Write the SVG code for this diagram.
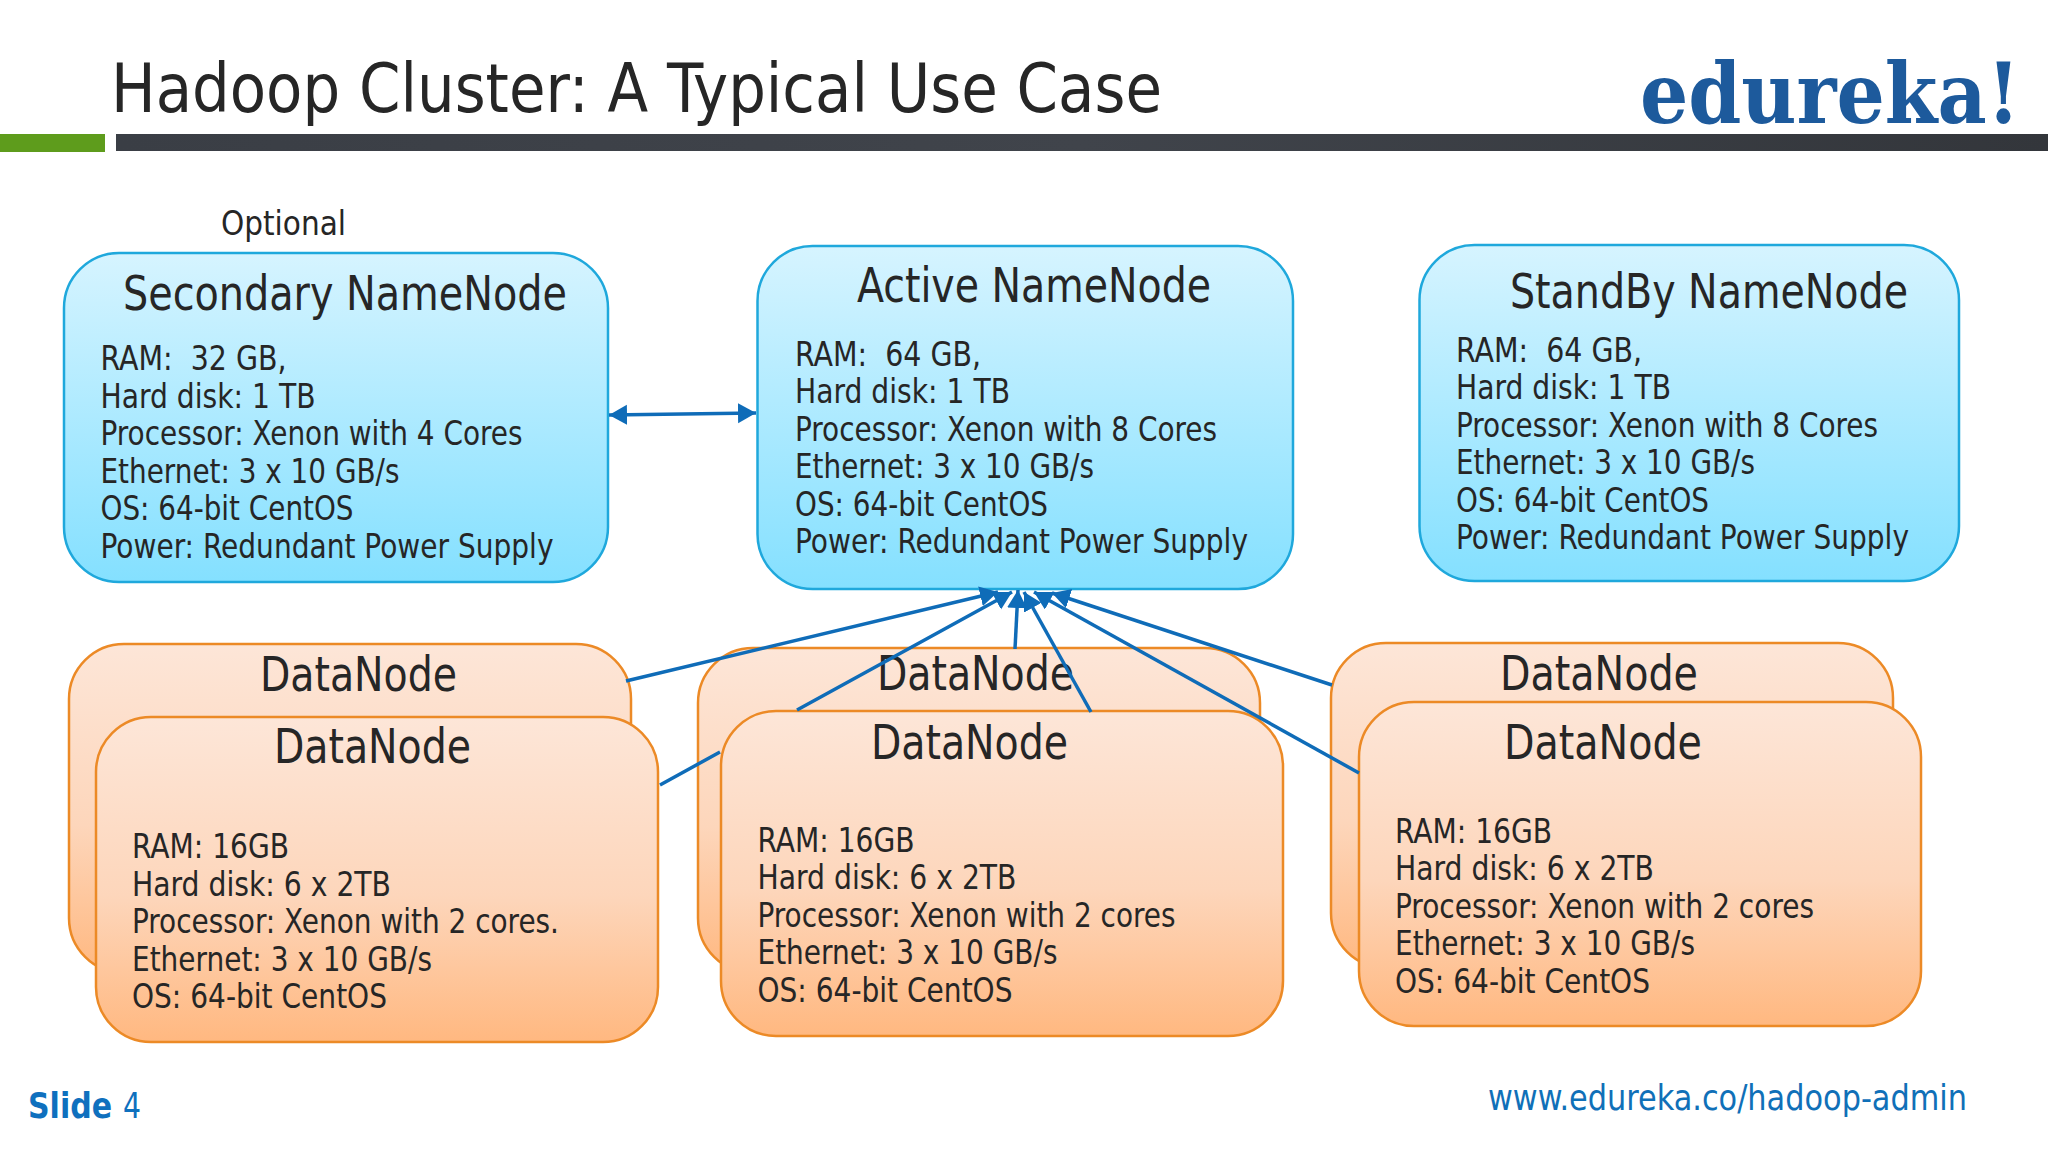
<svg xmlns="http://www.w3.org/2000/svg" width="2048" height="1152" viewBox="0 0 2048 1152">
<style>
text{font-family:"DejaVu Sans","Noto Sans",sans-serif;font-stretch:condensed;fill:#262626}
.b{font-size:33px}
.h{font-size:48px}
.blue{fill:url(#gb);stroke:#1fa8dc;stroke-width:2.5}
.or{fill:url(#go);stroke:#ec8a26;stroke-width:2.5}
.c{fill:none;stroke:#0f6cb8;stroke-width:3.500}
</style>
<defs>
<linearGradient id="gb" x1="0" y1="0" x2="0" y2="1"><stop offset="0" stop-color="#d6f4ff"/><stop offset="1" stop-color="#84e0ff"/></linearGradient>
<linearGradient id="go" x1="0" y1="0" x2="0" y2="1"><stop offset="0" stop-color="#fde6d8"/><stop offset="0.55" stop-color="#fdd6bb"/><stop offset="1" stop-color="#ffb880"/></linearGradient>
<linearGradient id="bar" x1="0" y1="0" x2="1" y2="0"><stop offset="0" stop-color="#3a3e45"/><stop offset="0.5" stop-color="#40444b"/><stop offset="1" stop-color="#33363b"/></linearGradient>
<marker id="a" markerUnits="userSpaceOnUse" markerWidth="20" markerHeight="22" refX="18" refY="10" orient="auto-start-reverse"><path d="M0 0L18 10L0 20Z" fill="#0f6cb8"/></marker>
</defs>
<rect width="2048" height="1152" fill="#fff"/>
<g id="header">
<rect x="0" y="134" width="105" height="18" fill="#5e9c1c"/>
<rect x="116" y="134" width="1932" height="17" fill="url(#bar)"/>
<text x="111" y="112" font-size="68" textLength="1051" lengthAdjust="spacingAndGlyphs">Hadoop Cluster: A Typical Use Case</text>
<text x="1640" y="123" font-size="84" textLength="380" lengthAdjust="spacingAndGlyphs" style="font-family:'DejaVu Serif','Liberation Serif',serif;font-weight:bold;fill:#1d5a9c">edureka!</text>
</g>
<text id="optional" class="b" x="221" y="235" textLength="125" lengthAdjust="spacingAndGlyphs">Optional</text>
<g id="secondary-namenode">
<rect class="blue" x="64" y="253" width="544" height="329" rx="55"/>
<text class="h" x="123" y="310" textLength="444" lengthAdjust="spacingAndGlyphs">Secondary NameNode</text>
<text class="b" x="100.500" y="370" textLength="186" lengthAdjust="spacingAndGlyphs" xml:space="preserve">RAM:  32 GB,</text>
<text class="b" x="100.500" y="407.500" textLength="215" lengthAdjust="spacingAndGlyphs">Hard disk: 1 TB</text>
<text class="b" x="100.500" y="445" textLength="422" lengthAdjust="spacingAndGlyphs">Processor: Xenon with 4 Cores</text>
<text class="b" x="100.500" y="482.500" textLength="299" lengthAdjust="spacingAndGlyphs">Ethernet: 3 x 10 GB/s</text>
<text class="b" x="100.500" y="520" textLength="253" lengthAdjust="spacingAndGlyphs">OS: 64-bit CentOS</text>
<text class="b" x="100.500" y="557.500" textLength="453" lengthAdjust="spacingAndGlyphs">Power: Redundant Power Supply</text>
</g>
<g id="active-namenode">
<rect class="blue" x="757.500" y="246" width="535.500" height="343" rx="55"/>
<text class="h" x="857" y="302" textLength="354" lengthAdjust="spacingAndGlyphs">Active NameNode</text>
<text class="b" x="795" y="365.500" textLength="186" lengthAdjust="spacingAndGlyphs" xml:space="preserve">RAM:  64 GB,</text>
<text class="b" x="795" y="403" textLength="215" lengthAdjust="spacingAndGlyphs">Hard disk: 1 TB</text>
<text class="b" x="795" y="440.500" textLength="422" lengthAdjust="spacingAndGlyphs">Processor: Xenon with 8 Cores</text>
<text class="b" x="795" y="478" textLength="299" lengthAdjust="spacingAndGlyphs">Ethernet: 3 x 10 GB/s</text>
<text class="b" x="795" y="515.500" textLength="253" lengthAdjust="spacingAndGlyphs">OS: 64-bit CentOS</text>
<text class="b" x="795" y="553" textLength="453" lengthAdjust="spacingAndGlyphs">Power: Redundant Power Supply</text>
</g>
<g id="standby-namenode">
<rect class="blue" x="1419.500" y="245" width="539.500" height="336" rx="55"/>
<text class="h" x="1510" y="308" textLength="398" lengthAdjust="spacingAndGlyphs">StandBy NameNode</text>
<text class="b" x="1456" y="361.500" textLength="186" lengthAdjust="spacingAndGlyphs" xml:space="preserve">RAM:  64 GB,</text>
<text class="b" x="1456" y="399" textLength="215" lengthAdjust="spacingAndGlyphs">Hard disk: 1 TB</text>
<text class="b" x="1456" y="436.500" textLength="422" lengthAdjust="spacingAndGlyphs">Processor: Xenon with 8 Cores</text>
<text class="b" x="1456" y="474" textLength="299" lengthAdjust="spacingAndGlyphs">Ethernet: 3 x 10 GB/s</text>
<text class="b" x="1456" y="511.500" textLength="253" lengthAdjust="spacingAndGlyphs">OS: 64-bit CentOS</text>
<text class="b" x="1456" y="549" textLength="453" lengthAdjust="spacingAndGlyphs">Power: Redundant Power Supply</text>
</g>
<g id="datanode-back-1">
<rect class="or" x="69" y="644" width="562" height="329" rx="55"/>
<text class="h" x="260" y="691" textLength="197" lengthAdjust="spacingAndGlyphs">DataNode</text>
</g>
<g id="datanode-back-2">
<rect class="or" x="698" y="648" width="562" height="325" rx="55"/>
<text class="h" x="877" y="690" textLength="197" lengthAdjust="spacingAndGlyphs">DataNode</text>
</g>
<g id="datanode-back-3">
<rect class="or" x="1331" y="643" width="562" height="325" rx="55"/>
<text class="h" x="1500" y="690" textLength="198" lengthAdjust="spacingAndGlyphs">DataNode</text>
</g>
<g id="datanode-front-1">
<rect class="or" x="96" y="717" width="562" height="325" rx="55"/>
<text class="h" x="274" y="763" textLength="197" lengthAdjust="spacingAndGlyphs">DataNode</text>
<text class="b" x="132" y="858" textLength="157" lengthAdjust="spacingAndGlyphs">RAM: 16GB</text>
<text class="b" x="132" y="895.500" textLength="259" lengthAdjust="spacingAndGlyphs">Hard disk: 6 x 2TB</text>
<text class="b" x="132" y="933" textLength="427" lengthAdjust="spacingAndGlyphs">Processor: Xenon with 2 cores.</text>
<text class="b" x="132" y="970.500" textLength="300" lengthAdjust="spacingAndGlyphs">Ethernet: 3 x 10 GB/s</text>
<text class="b" x="132" y="1008" textLength="255" lengthAdjust="spacingAndGlyphs">OS: 64-bit CentOS</text>
</g>
<g id="datanode-front-2">
<rect class="or" x="721" y="711" width="562" height="325" rx="55"/>
<text class="h" x="871" y="758.500" textLength="197" lengthAdjust="spacingAndGlyphs">DataNode</text>
<text class="b" x="757.500" y="851.500" textLength="157" lengthAdjust="spacingAndGlyphs">RAM: 16GB</text>
<text class="b" x="757.500" y="889" textLength="259" lengthAdjust="spacingAndGlyphs">Hard disk: 6 x 2TB</text>
<text class="b" x="757.500" y="926.500" textLength="418" lengthAdjust="spacingAndGlyphs">Processor: Xenon with 2 cores</text>
<text class="b" x="757.500" y="964" textLength="300" lengthAdjust="spacingAndGlyphs">Ethernet: 3 x 10 GB/s</text>
<text class="b" x="757.500" y="1001.500" textLength="255" lengthAdjust="spacingAndGlyphs">OS: 64-bit CentOS</text>
</g>
<g id="datanode-front-3">
<rect class="or" x="1359" y="702" width="562" height="324" rx="55"/>
<text class="h" x="1504" y="758.500" textLength="198" lengthAdjust="spacingAndGlyphs">DataNode</text>
<text class="b" x="1395" y="842.500" textLength="157" lengthAdjust="spacingAndGlyphs">RAM: 16GB</text>
<text class="b" x="1395" y="880" textLength="259" lengthAdjust="spacingAndGlyphs">Hard disk: 6 x 2TB</text>
<text class="b" x="1395" y="917.500" textLength="419" lengthAdjust="spacingAndGlyphs">Processor: Xenon with 2 cores</text>
<text class="b" x="1395" y="955" textLength="300" lengthAdjust="spacingAndGlyphs">Ethernet: 3 x 10 GB/s</text>
<text class="b" x="1395" y="992.500" textLength="255" lengthAdjust="spacingAndGlyphs">OS: 64-bit CentOS</text>
</g>
<g id="connectors">
<path class="c" d="M609 415L756 413" marker-start="url(#a)" marker-end="url(#a)"/>
<path class="c" d="M626 681L998 592" marker-end="url(#a)"/>
<path class="c" d="M660 785L720 752M797 710L1012 592" marker-end="url(#a)"/>
<path class="c" d="M1015 649L1018 590" marker-end="url(#a)"/>
<path class="c" d="M1091 712L1024 592" marker-end="url(#a)"/>
<path class="c" d="M1359 773L1034 592" marker-end="url(#a)"/>
<path class="c" d="M1332 685L1052 593" marker-end="url(#a)"/>
</g>
<g id="footer">
<text x="28" y="1118" font-size="36" style="font-weight:bold;fill:#0f70be" textLength="84" lengthAdjust="spacingAndGlyphs">Slide</text>
<text x="123" y="1118" font-size="36" textLength="18" lengthAdjust="spacingAndGlyphs" style="fill:#0f70be">4</text>
<text x="1488" y="1110" font-size="35" style="fill:#1070b8" textLength="479" lengthAdjust="spacingAndGlyphs">www.edureka.co/hadoop-admin</text>
</g>
</svg>
